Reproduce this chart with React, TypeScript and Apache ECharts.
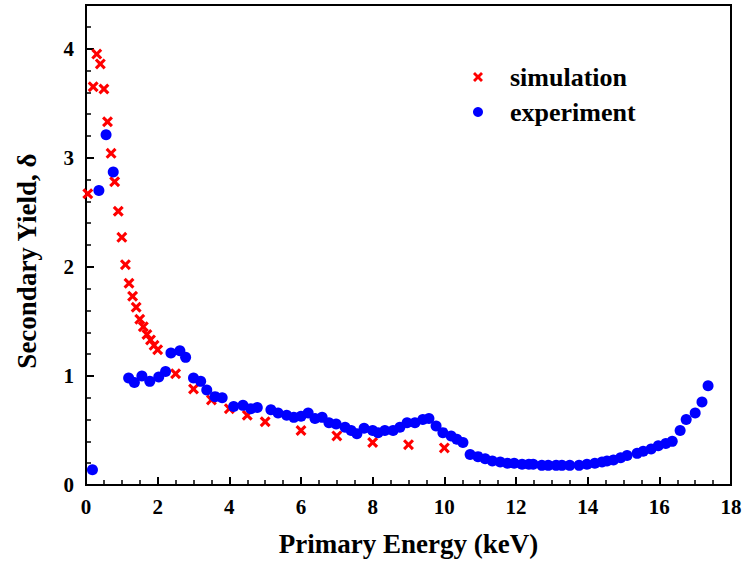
import React, { useEffect, useRef } from "react";
import * as echarts from "echarts";

const simX = [0.05, 0.2, 0.3, 0.4, 0.5, 0.6, 0.7, 0.8, 0.9, 1.0, 1.1, 1.2, 1.3, 1.4, 1.5, 1.6, 1.7, 1.8, 1.9, 2.0, 2.5, 3, 3.5, 4, 4.5, 5, 6, 7, 8, 9, 10];
const simY = [2.67, 3.65, 3.95, 3.86, 3.63, 3.33, 3.04, 2.78, 2.51, 2.27, 2.02, 1.85, 1.73, 1.63, 1.52, 1.45, 1.38, 1.33, 1.28, 1.24, 1.02, 0.88, 0.78, 0.7, 0.64, 0.58, 0.5, 0.45, 0.39, 0.37, 0.34];

const expX = [0.18, 0.36, 0.56, 0.76, 1.19, 1.35, 1.56, 1.78, 2.03, 2.22, 2.37, 2.62, 2.78, 3.0, 3.2, 3.37, 3.6, 3.8, 4.12, 4.38, 4.6, 4.78, 5.16, 5.36, 5.6, 5.8, 6.0, 6.2, 6.39, 6.59, 6.78, 6.98, 7.23, 7.4, 7.56, 7.76, 8.0, 8.15, 8.34, 8.57, 8.76, 8.96, 9.18, 9.4, 9.57, 9.77, 9.96, 10.19, 10.35, 10.52, 10.72, 10.94, 11.14, 11.34, 11.56, 11.76, 11.95, 12.17, 12.36, 12.48, 12.72, 12.9, 13.12, 13.28, 13.5, 13.76, 13.98, 14.2, 14.4, 14.54, 14.72, 14.92, 15.1, 15.38, 15.55, 15.77, 15.97, 16.18, 16.36, 16.58, 16.75, 17.0, 17.19, 17.36];
const expY = [0.14, 2.7, 3.21, 2.87, 0.98, 0.94, 1.0, 0.95, 0.99, 1.04, 1.21, 1.23, 1.17, 0.98, 0.95, 0.87, 0.81, 0.8, 0.72, 0.73, 0.7, 0.71, 0.69, 0.66, 0.64, 0.62, 0.63, 0.66, 0.61, 0.62, 0.57, 0.56, 0.53, 0.5, 0.47, 0.52, 0.5, 0.48, 0.5, 0.5, 0.53, 0.57, 0.57, 0.6, 0.61, 0.54, 0.48, 0.45, 0.42, 0.39, 0.28, 0.26, 0.24, 0.22, 0.21, 0.2, 0.2, 0.19, 0.19, 0.19, 0.18, 0.18, 0.18, 0.18, 0.18, 0.18, 0.19, 0.2, 0.21, 0.22, 0.23, 0.25, 0.27, 0.29, 0.31, 0.33, 0.36, 0.38, 0.4, 0.5, 0.6, 0.66, 0.76, 0.91];

const seriesNames = ["simulation", "experiment"];
const xTitle = "Primary Energy (keV)";
const yTitle = "Secondary Yield, δ";
const FONT = "'Liberation Serif', 'Times New Roman', serif";
const CROSS = "path://M0,2 L2,0 L5,3 L8,0 L10,2 L7,5 L10,8 L8,10 L5,7 L2,10 L0,8 L3,5 Z";

export default function App() {
  const ref = useRef<HTMLDivElement>(null);
  useEffect(() => {
    const chart = echarts.init(ref.current!, null, { renderer: "svg" });
    const axisCommon = {
      axisLine: { show: true, lineStyle: { color: "#000", width: 2 } },
      axisTick: { show: true, inside: true, length: 8, lineStyle: { color: "#000", width: 2 } },
      minorTick: { show: true, length: 5, lineStyle: { color: "#000", width: 1.5 } },
      splitLine: { show: false },
      nameTextStyle: { fontFamily: FONT, fontWeight: "bold", fontSize: 27, color: "#000" },
    };
    chart.setOption({
      animation: false,
      backgroundColor: "#fff",
      grid: { left: 86, right: 15, top: 5, bottom: 84, show: true, borderColor: "#000", borderWidth: 2 },
      legend: {
        left: 468,
        top: 59,
        orient: "vertical",
        itemWidth: 10,
        itemHeight: 10,
        itemGap: 9,
        textStyle: { fontFamily: FONT, fontWeight: "bold", fontSize: 26, color: "#000", lineHeight: 26, padding: [0, 0, 0, 22] },
        data: [
          { name: seriesNames[0], icon: CROSS },
          { name: seriesNames[1], icon: "circle" },
        ],
      },
      graphic: [
        {
          type: "text",
          x: 27,
          y: 261,
          rotation: Math.PI / 2,
          style: {
            text: yTitle,
            fontFamily: FONT,
            fontWeight: "bold",
            fontSize: 27,
            fill: "#000",
            align: "center",
            verticalAlign: "middle",
          },
        },
      ],
      xAxis: {
        type: "value",
        min: 0,
        max: 18,
        interval: 2,
        ...axisCommon,
        minorTick: { ...axisCommon.minorTick, splitNumber: 4 },
        axisLabel: { fontFamily: FONT, fontWeight: "bold", fontSize: 21, color: "#000", margin: 11 },
        name: xTitle,
        nameLocation: "middle",
        nameGap: 45,
      },
      yAxis: {
        type: "value",
        min: 0,
        max: 4.4,
        interval: 1,
        ...axisCommon,
        minorTick: { ...axisCommon.minorTick, splitNumber: 5 },
        axisLabel: { fontFamily: FONT, fontWeight: "bold", fontSize: 21, color: "#000", margin: 12, showMaxLabel: false },
      },
      series: [
        {
          name: seriesNames[0],
          type: "scatter",
          symbol: CROSS,
          symbolSize: 11,
          itemStyle: { color: "#ff0000", opacity: 1 },
          data: simX.map((x, i) => [x, simY[i]]),
        },
        {
          name: seriesNames[1],
          type: "scatter",
          symbol: "circle",
          symbolSize: 11,
          itemStyle: { color: "#0000ff", opacity: 1 },
          data: expX.map((x, i) => [x, expY[i]]),
        },
      ],
    });
    return () => chart.dispose();
  }, []);
  return <div ref={ref} style={{ width: 746, height: 569, position: "absolute", left: 0, top: 0 }} />;
}
